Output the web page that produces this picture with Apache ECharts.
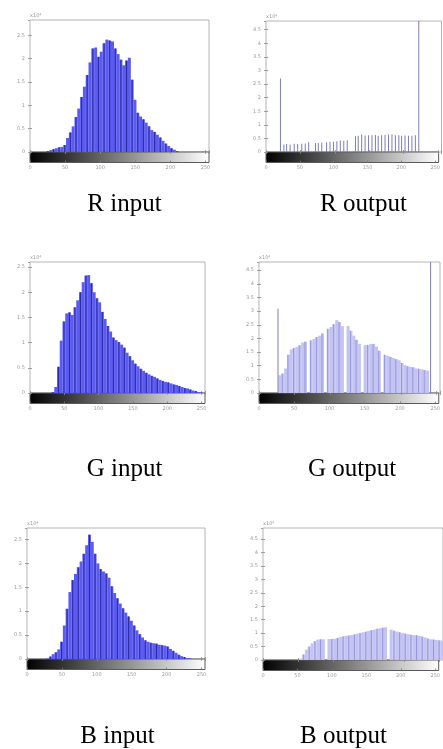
<!DOCTYPE html>
<html>
<head>
<meta charset="utf-8">
<script src="https://cdn.jsdelivr.net/npm/echarts@6/dist/echarts.min.js"></script>
<style>
  html, body { margin: 0; background: #fff; }
  #chart { width: 443px; height: 749px; }
</style>
</head>
<body>
<div id="chart"></div>
<script>
// imhist-style histograms, input vs equalized output, per RGB channel
// counts in units of 10^4 pixels; bins of 4 grey levels (bin i = levels 4i..4i+3)

const BIN = 4;

const rInput = [
  0, 0, 0, 0, 0, 0, 0.02, 0.04, 0.06, 0.08, 0.1, 0.11, 0.15, 0.3, 0.42, 0.55,
  0.75, 0.93, 1.18, 1.4, 1.65, 1.92, 2.22, 2.24, 2.04, 2.15, 2.33, 2.41, 2.39, 2.37, 2.22, 2.1,
  1.98, 1.86, 1.96, 2.02, 1.55, 1.12, 0.84, 0.76, 0.7, 0.63, 0.55, 0.47, 0.43, 0.37, 0.31, 0.24,
  0.18, 0.13, 0.08, 0.05, 0.02, 0, 0, 0, 0, 0, 0, 0, 0, 0, 0, 0,
];
const gInput = [
  0, 0, 0, 0, 0, 0, 0, 0, 0.02, 0.12, 0.52, 1.04, 1.42, 1.58, 1.6, 1.55,
  1.7, 1.84, 2.0, 2.2, 2.33, 2.34, 2.18, 2.0, 1.88, 1.8, 1.61, 1.47, 1.33, 1.22, 1.1, 1.05,
  1.01, 0.96, 0.9, 0.8, 0.73, 0.65, 0.58, 0.53, 0.48, 0.44, 0.4, 0.37, 0.34, 0.32, 0.29, 0.26,
  0.24, 0.22, 0.21, 0.19, 0.17, 0.16, 0.14, 0.12, 0.1, 0.09, 0.07, 0.05, 0.04, 0.02, 0.01, 0,
];
const bInput = [
  0, 0, 0, 0, 0, 0, 0, 0.01, 0.05, 0.1, 0.14, 0.2, 0.36, 0.7, 1.05, 1.4,
  1.65, 1.78, 1.92, 2.04, 2.2, 2.38, 2.6, 2.45, 2.2, 2.0, 1.88, 1.83, 1.79, 1.7, 1.52, 1.38,
  1.27, 1.16, 1.06, 0.97, 0.89, 0.8, 0.7, 0.6, 0.52, 0.45, 0.39, 0.36, 0.34, 0.33, 0.32, 0.3,
  0.29, 0.28, 0.26, 0.21, 0.17, 0.13, 0.09, 0.06, 0.04, 0.02, 0.01, 0, 0, 0, 0, 0,
];
const gOutput = [
  0, 0, 0, 0, 0, 0, 0, 0.65, 0.71, 0.9, 1.4, 1.6, 1.65, 1.69, 1.75, 1.85,
  1.88, 0, 1.93, 1.98, 2.05, 2.1, 2.18, 0, 2.35, 2.42, 2.52, 2.67, 2.6, 2.45, 0, 2.45,
  2.28, 2.1, 1.95, 1.8, 0, 1.75, 1.76, 1.8, 1.8, 1.7, 1.55, 0, 1.4, 1.36, 1.32, 1.28,
  1.24, 1.2, 1.1, 1.02, 0.98, 0.96, 0.94, 0.9, 0.89, 0.87, 0.84, 0.82, 0, 0, 0, 0,
];
const bOutput = [
  0, 0, 0, 0, 0, 0, 0, 0, 0, 0, 0, 0, 0, 0.05, 0.2, 0.38,
  0.5, 0.62, 0.7, 0.76, 0.77, 0.77, 0, 0.78, 0.78, 0.79, 0.82, 0.85, 0.88, 0.9, 0.91, 0.93,
  0.95, 0.98, 1.0, 1.03, 1.05, 1.08, 1.11, 1.13, 1.16, 1.18, 1.2, 1.22, 0, 1.13, 1.09, 1.06,
  1.03, 1.0, 0.98, 0.96, 0.94, 0.93, 0.92, 0.9, 0.87, 0.84, 0.8, 0.77, 0.76, 0.75, 0.73, 0.72,
];

// sparse single-level stems
const rOutLevels = [21, 26, 30, 35, 41, 46, 52, 57, 62, 72, 76, 81, 88, 93, 98, 103, 108, 113, 118,
  130, 134, 139, 144, 149, 154, 159, 163, 168, 173, 178, 183, 188, 193, 197, 202, 207, 212, 217, 222];
const rOutCounts = [2.7, 0.28, 0.29, 0.28, 0.3, 0.29, 0.3, 0.31, 0.36, 0.33, 0.34, 0.35, 0.36, 0.38, 0.38, 0.4, 0.42, 0.41, 0.43,
  0.58, 0.6, 0.64, 0.61, 0.62, 0.62, 0.63, 0.6, 0.62, 0.63, 0.64, 0.64, 0.62, 0.62, 0.6, 0.61, 0.6, 0.6, 0.62, 4.82];
const gOutStemLevels = [26, 241];
const gOutStemCounts = [3.09, 4.8];

const yMax = [2.83, 4.82, 2.6, 4.8, 2.74, 4.91];
const captions = ['R input', 'R output', 'G input', 'G output', 'B input', 'B output'];

// layout: histogram boxes [left, top, width, height] and caption centres, px
const LAYOUT = [
  [30, 20, 179, 132],
  [266, 21, 175.5, 131],
  [30, 262, 175, 131],
  [259, 262, 181, 131],
  [27, 528, 178, 131],
  [263, 528, 181, 132],
];
const CAPTION_AT = [[124.5, 204], [363.5, 204], [124.5, 469], [352, 469], [117.5, 736], [343.5, 736]];
const CBAR_H = 10.5;

const LOOK = {
  in: { fill: '#5b5bf2', stripe: '#2a2aa0' },
  out: { fill: '#c4c4f3', stripe: '#9696dc', stem: '#7c7cb4' },
  tick: '#8c8c8c',
  label: '#9a9a9a',
};

const PANELS = [
  { bins: rInput, look: 'in' },
  { stems: [rOutLevels, rOutCounts], look: 'out' },
  { bins: gInput, look: 'in' },
  { bins: gOutput, stems: [gOutStemLevels, gOutStemCounts], look: 'out' },
  { bins: bInput, look: 'in' },
  { bins: bOutput, look: 'out' },
];

const GREY_RAMP = {
  type: 'linear', x: 0, y: 0, x2: 1, y2: 0,
  colorStops: [{ offset: 0, color: '#000' }, { offset: 1, color: '#fff' }],
};

const tickStyle = { show: true, inside: true, length: 2, lineStyle: { color: LOOK.tick, width: 0.8 } };
const labelStyle = { color: LOOK.label, fontSize: 5, fontFamily: 'DejaVu Sans' };

function histX(gridIndex, position) {
  return {
    gridIndex, position, type: 'value', min: 0, max: 255, interval: 50,
    axisLine: { show: false }, axisLabel: { show: false }, splitLine: { show: false },
    axisTick: tickStyle,
  };
}

function histY(gridIndex, position, max) {
  const left = position === 'left';
  return {
    gridIndex, position, type: 'value', min: 0, max, interval: 0.5,
    axisLine: { show: false }, splitLine: { show: false }, axisTick: tickStyle,
    axisLabel: left ? { ...labelStyle, margin: 5, showMaxLabel: false } : { show: false },
    name: left ? 'x10\u2074' : '',
    nameLocation: 'end', nameGap: 2,
    nameTextStyle: { ...labelStyle, align: 'left', padding: [0, 0, 0, 0] },
  };
}

function cbarX(gridIndex) {
  return {
    gridIndex, type: 'value', min: 0, max: 255, interval: 50,
    axisLine: { show: false }, splitLine: { show: false },
    axisTick: { ...tickStyle, lineStyle: { color: '#777', width: 0.8 } },
    axisLabel: { ...labelStyle, margin: 3, showMaxLabel: false },
  };
}

const grids = [], xAxes = [], yAxes = [], series = [], texts = [];

PANELS.forEach((p, k) => {
  const [left, top, width, height] = LAYOUT[k];
  const g = grids.length;
  grids.push({ left, top, width, height, show: true, borderColor: '#b4b4b4', borderWidth: 1, backgroundColor: '#fff' });
  grids.push({ left, top: top + height, width, height: CBAR_H, show: true, borderColor: '#5a5a5a', borderWidth: 1, backgroundColor: GREY_RAMP });

  const xa = xAxes.length, ya = yAxes.length;
  xAxes.push(histX(g, 'bottom'), histX(g, 'top'), cbarX(g + 1));
  yAxes.push(histY(g, 'left', yMax[k]), histY(g, 'right', yMax[k]),
    { gridIndex: g + 1, type: 'value', min: 0, max: 1, show: false });

  const look = LOOK[p.look];
  const pxPerLevel = width / 255;

  if (p.bins) {
    const pts = p.bins.map((v, i) => [i * BIN + BIN / 2 - 0.5, v]);
    series.push({
      type: 'bar', xAxisIndex: xa, yAxisIndex: ya, data: pts,
      barWidth: BIN * pxPerLevel + 0.2, itemStyle: { color: look.fill }, silent: true,
    });
    // darker stems every other bin, like the aliased stem lines in the scan
    series.push({
      type: 'bar', xAxisIndex: xa + 1, yAxisIndex: ya, data: pts.filter((_, i) => i % 2 === 0),
      barWidth: 1, itemStyle: { color: look.stripe }, silent: true,
    });
  }
  if (p.stems) {
    const [levels, counts] = p.stems;
    series.push({
      type: 'bar', xAxisIndex: xa + 1, yAxisIndex: ya, data: levels.map((l, i) => [l, counts[i]]),
      barWidth: 1, itemStyle: { color: look.stem }, silent: true,
    });
  }

  const [cx, cy] = CAPTION_AT[k];
  texts.push({
    type: 'text', x: cx, y: cy, silent: true,
    style: { text: captions[k], fill: '#000', font: '25px "Liberation Serif"', align: 'center', verticalAlign: 'middle' },
  });
});

const chart = echarts.init(document.getElementById('chart'), null, { renderer: 'canvas' });
chart.setOption({
  animation: false,
  backgroundColor: '#fff',
  grid: grids,
  xAxis: xAxes,
  yAxis: yAxes,
  series,
  graphic: texts,
});
</script>
</body>
</html>
